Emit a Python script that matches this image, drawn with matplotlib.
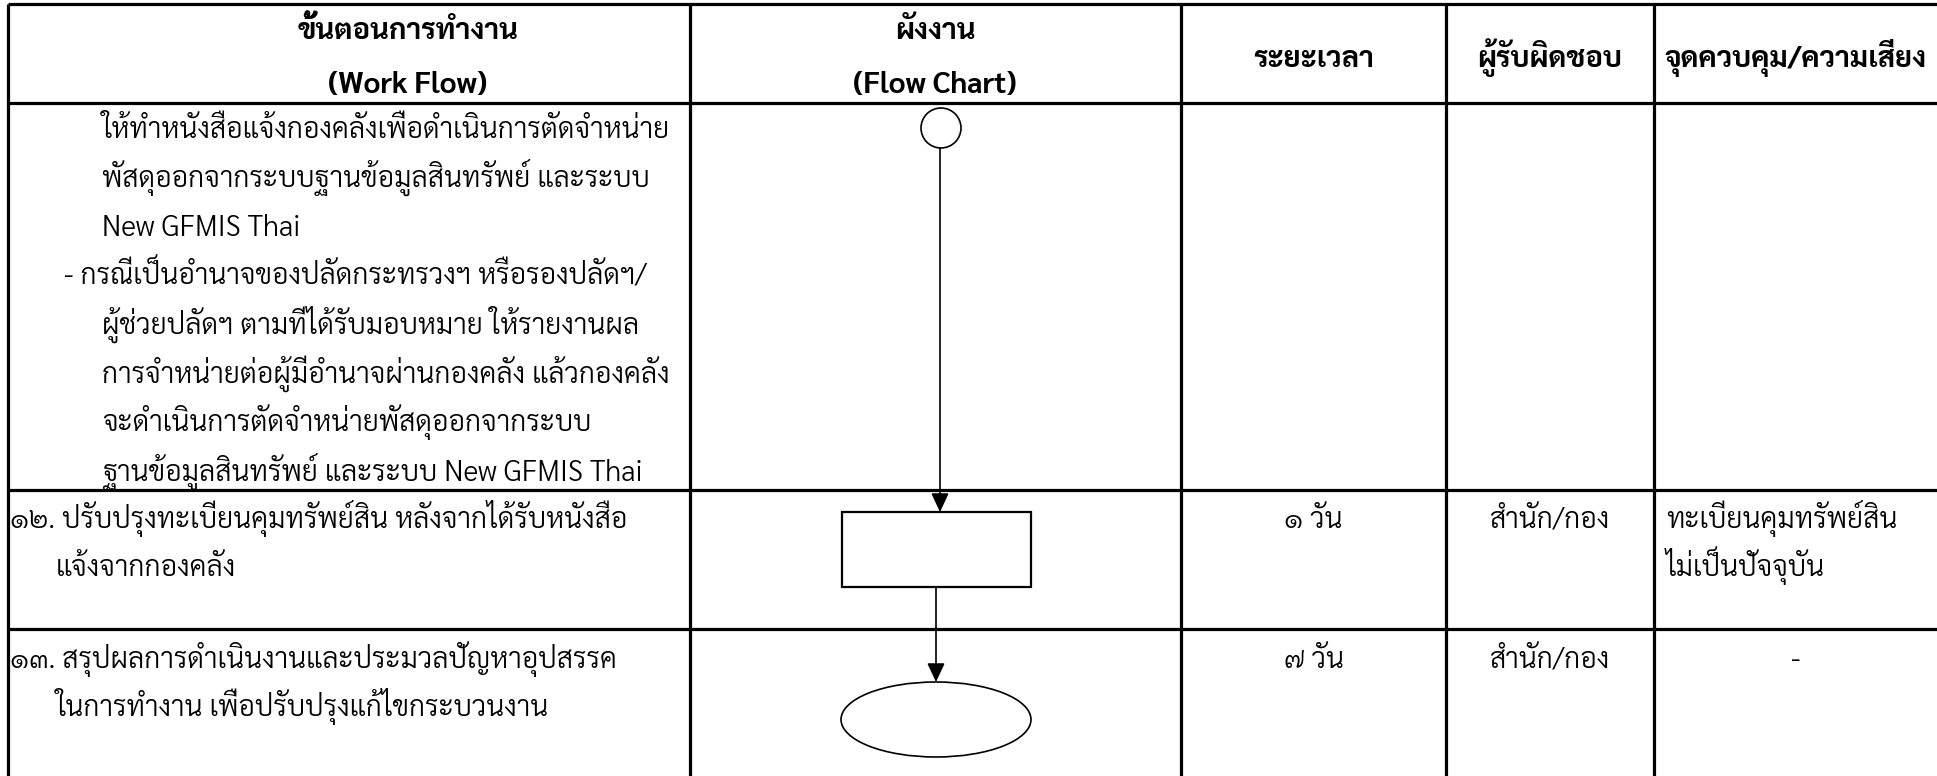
import matplotlib
matplotlib.use("Agg")
import matplotlib.pyplot as plt
from matplotlib import font_manager
from matplotlib.ft2font import FT2Font
from matplotlib.patches import Rectangle, Ellipse, Circle

# ---------------- data ----------------
header_cols = ["ขั้นตอนการทำงาน\n(Work Flow)", "ผังงาน\n(Flow Chart)",
               "ระยะเวลา", "ผู้รับผิดชอบ", "จุดควบคุม/ความเสี่ยง"]
cont_lines = [
    "ให้ทำหนังสือแจ้งกองคลังเพื่อดำเนินการตัดจำหน่าย",
    "พัสดุออกจากระบบฐานข้อมูลสินทรัพย์ และระบบ",
    "New GFMIS Thai",
    "- กรณีเป็นอำนาจของปลัดกระทรวงฯ หรือรองปลัดฯ/",
    "ผู้ช่วยปลัดฯ ตามที่ได้รับมอบหมาย ให้รายงานผล",
    "การจำหน่ายต่อผู้มีอำนาจผ่านกองคลัง แล้วกองคลัง",
    "จะดำเนินการตัดจำหน่ายพัสดุออกจากระบบ",
    "ฐานข้อมูลสินทรัพย์ และระบบ New GFMIS Thai",
]
step_nums = ["๑๒.", "๑๓."]
step_lines = [
    ["ปรับปรุงทะเบียนคุมทรัพย์สิน หลังจากได้รับหนังสือ", "แจ้งจากกองคลัง"],
    ["สรุปผลการดำเนินงานและประมวลปัญหาอุปสรรค", "ในการทำงาน เพื่อปรับปรุงแก้ไขกระบวนงาน"],
]
durations = ["๑ วัน", "๗ วัน"]
responsible = ["สำนัก/กอง", "สำนัก/กอง"]
controls = [["ทะเบียนคุมทรัพย์สิน", "ไม่เป็นปัจจุบัน"], ["-"]]


# ---------------- font detection ----------------
def find_thai_font(prefs):
    found = set()
    for f in font_manager.fontManager.ttflist:
        try:
            cm = FT2Font(f.fname).get_charmap()
        except Exception:
            continue
        if 0x0E01 in cm and 0x0E2A in cm and 0x0E51 in cm:
            found.add(f.name)
    for p in prefs:
        if p in found:
            return p
    return sorted(found)[0] if found else None

thai = find_thai_font(["Sarabun", "Niramit", "Thasadith", "Noto Sans Thai Looped",
                       "Noto Sans Thai", "Loma"])
fams = ([thai] if thai else []) + ["Noto Sans", "DejaVu Sans"]
plt.rcParams["font.family"] = fams

W, H = 1937, 776
fig = plt.figure(figsize=(W / 100, H / 100), dpi=100)
ax = fig.add_axes([0, 0, 1, 1])
ax.set_xlim(0, W)
ax.set_ylim(H, 0)
ax.axis("off")

fig.canvas.draw()
rend = fig.canvas.get_renderer()

BODY_W = 300


def fit_size(txt, target, weight="normal"):
    t = ax.text(0, 0, txt, fontsize=20, family=fams, weight=weight)
    w = t.get_window_extent(rend).width
    t.remove()
    return 20 * target / w

body_fs = fit_size(cont_lines[0], 570, BODY_W)
head_fs = fit_size(header_cols[4], 262, "bold")

# ---------------- table grid ----------------
col_x = [8, 690, 1181, 1446, 1654, W]
row_y = [4, 103, 490, 629]
tlw = 2.3
for y in row_y:
    ax.plot([col_x[0], W], [y, y], color="black", lw=tlw, solid_capstyle="butt")
for x in col_x[:-1]:
    ax.plot([x, x], [row_y[0], H], color="black", lw=tlw, solid_capstyle="butt")

# ---------------- header ----------------
head_cx = [408, 935, (col_x[2] + col_x[3]) / 2, (col_x[3] + col_x[4]) / 2,
           (col_x[4] + col_x[5]) / 2]
for i, h in enumerate(header_cols):
    cx = head_cx[i]
    parts = h.split("\n")
    if len(parts) == 2:
        ax.text(cx, 39, parts[0], ha="center", va="baseline", fontsize=head_fs, weight="bold")
        ax.text(cx, 93, parts[1], ha="center", va="baseline", fontsize=head_fs, weight="bold")
    else:
        ax.text(cx, 67, parts[0], ha="center", va="baseline", fontsize=head_fs, weight="bold")

# ---------------- body text ----------------
body_kw = dict(va="baseline", fontsize=body_fs, weight=BODY_W)
line_gap = 48.9
for i, line in enumerate(cont_lines):
    x = 64 if line.startswith("-") else 102
    ax.text(x, 138 + i * line_gap, line, ha="left", **body_kw)

row_base = [528, 668]
for r in range(2):
    ax.text(10, row_base[r], step_nums[r] + " " + step_lines[r][0], ha="left", **body_kw)
    for j, l in enumerate(step_lines[r][1:], start=1):
        ax.text(56, row_base[r] + j * 48, l, ha="left", **body_kw)
    ax.text((col_x[2] + col_x[3]) / 2, row_base[r], durations[r], ha="center", **body_kw)
    ax.text((col_x[3] + col_x[4]) / 2, row_base[r], responsible[r], ha="center", **body_kw)
    ctl = controls[r]
    if len(ctl) == 1 and ctl[0] == "-":
        ax.text((col_x[4] + col_x[5]) / 2, row_base[r], ctl[0], ha="center", **body_kw)
    else:
        for j, l in enumerate(ctl):
            ax.text(1666, row_base[r] + j * 48, l, ha="left", **body_kw)

# ---------------- flowchart ----------------
flw = 1.2
ax.add_patch(Circle((941, 128), 20, fill=False, ec="black", lw=flw))
ax.add_patch(Rectangle((842, 512), 189, 75, fill=False, ec="black", lw=1.6))
ax.add_patch(Ellipse((936, 719.5), 190, 75, fill=False, ec="black", lw=flw))

arrow_kw = dict(arrowstyle="-|>,head_length=11.5,head_width=5.4", color="black",
                lw=flw, shrinkA=0, shrinkB=0, mutation_scale=1)
ax.annotate("", xy=(940, 512), xytext=(940, 148), arrowprops=arrow_kw)
ax.annotate("", xy=(936, 682), xytext=(936, 587), arrowprops=arrow_kw)

fig.savefig("out.png", dpi=100)
